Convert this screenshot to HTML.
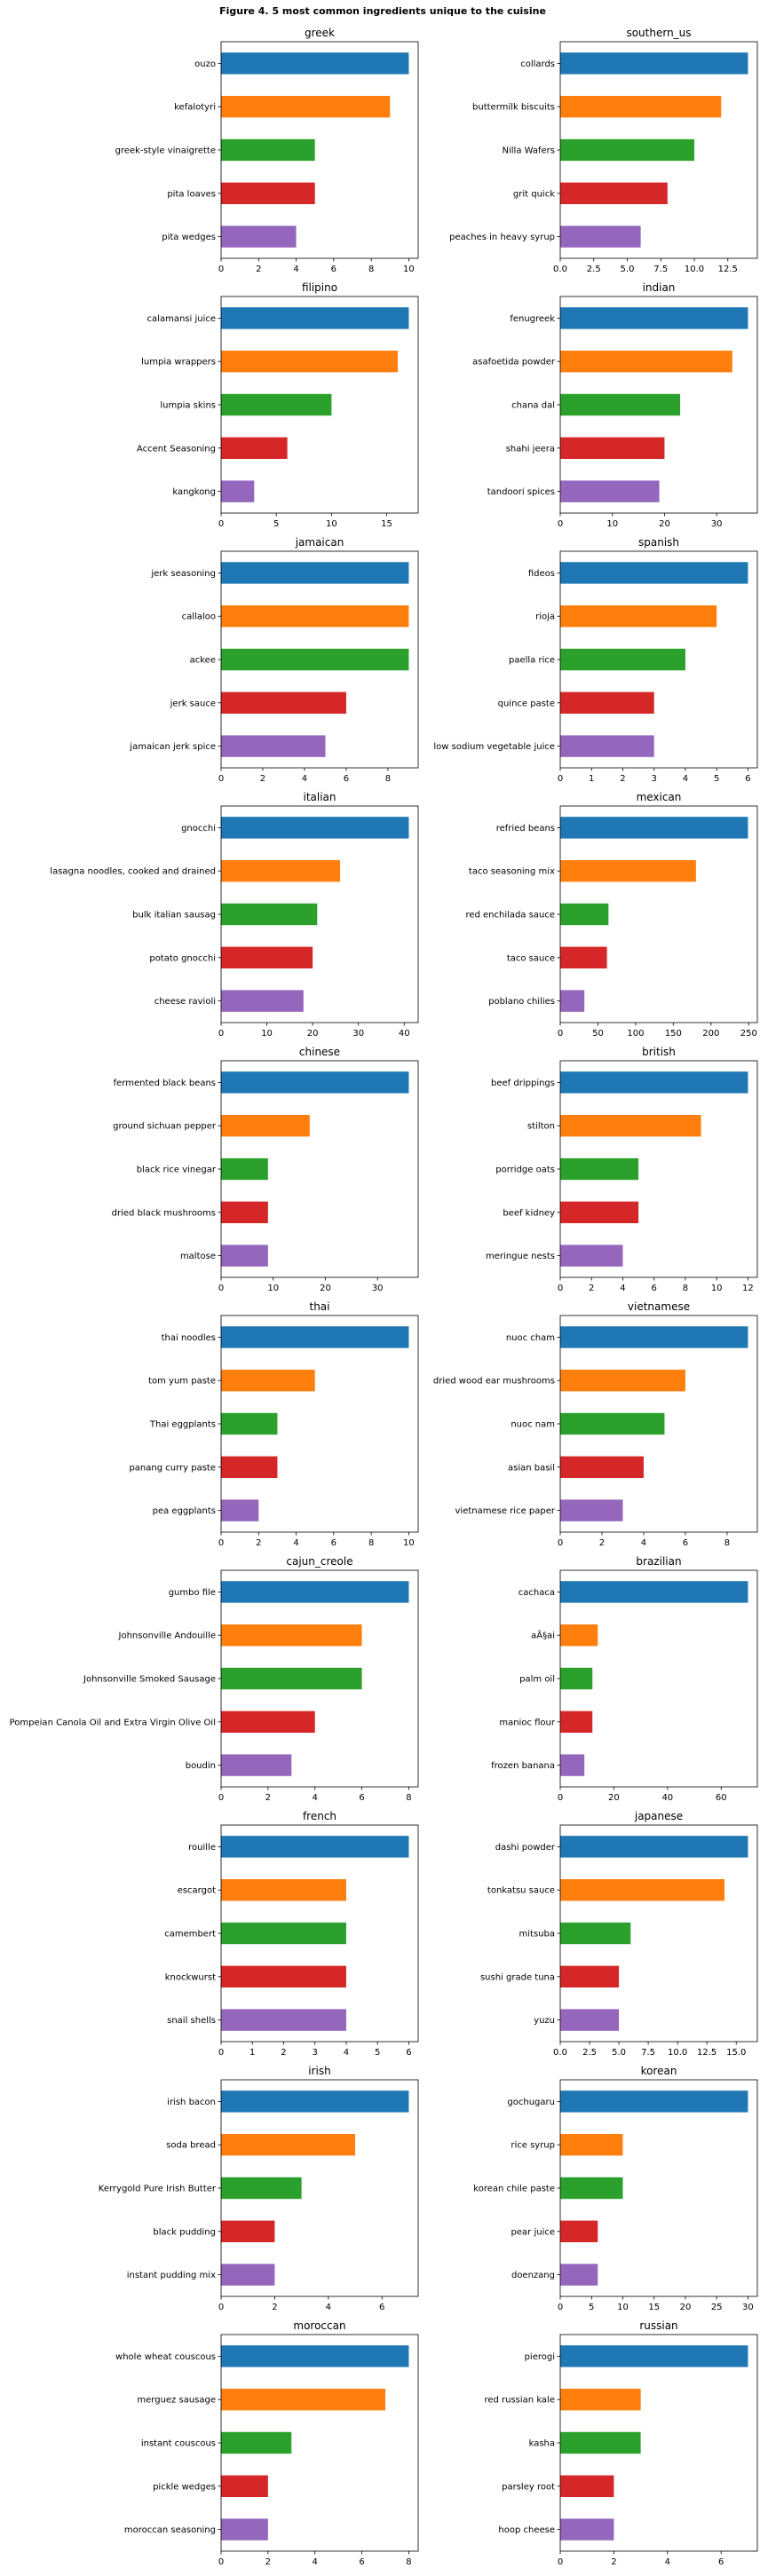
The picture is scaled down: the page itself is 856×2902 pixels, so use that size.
<!DOCTYPE html>
<html><head><meta charset="utf-8"><style>
html,body{margin:0;padding:0;background:#fff;}
svg text{font-family:"DejaVu Sans","Liberation Sans",sans-serif;fill:#000;}
</style></head>
<body>
<svg id="fig" width="856" height="2897" viewBox="0 0 856 2897" xmlns="http://www.w3.org/2000/svg">
<rect width="856" height="2897" fill="#fff"/>
<text x="431" y="16" text-anchor="middle" font-size="11" font-weight="bold">Figure 4. 5 most common ingredients unique to the cuisine</text>
</svg>
<script>
const cuisines = ["greek","southern_us","filipino","indian","jamaican","spanish","italian","mexican","chinese","british","thai","vietnamese","cajun_creole","brazilian","french","japanese","irish","korean","moroccan","russian"];
const ingredients = [
["ouzo","kefalotyri","greek-style vinaigrette","pita loaves","pita wedges"],
["collards","buttermilk biscuits","Nilla Wafers","grit quick","peaches in heavy syrup"],
["calamansi juice","lumpia wrappers","lumpia skins","Accent Seasoning","kangkong"],
["fenugreek","asafoetida powder","chana dal","shahi jeera","tandoori spices"],
["jerk seasoning","callaloo","ackee","jerk sauce","jamaican jerk spice"],
["fideos","rioja","paella rice","quince paste","low sodium vegetable juice"],
["gnocchi","lasagna noodles, cooked and drained","bulk italian sausag","potato gnocchi","cheese ravioli"],
["refried beans","taco seasoning mix","red enchilada sauce","taco sauce","poblano chilies"],
["fermented black beans","ground sichuan pepper","black rice vinegar","dried black mushrooms","maltose"],
["beef drippings","stilton","porridge oats","beef kidney","meringue nests"],
["thai noodles","tom yum paste","Thai eggplants","panang curry paste","pea eggplants"],
["nuoc cham","dried wood ear mushrooms","nuoc nam","asian basil","vietnamese rice paper"],
["gumbo file","Johnsonville Andouille","Johnsonville Smoked Sausage","Pompeian Canola Oil and Extra Virgin Olive Oil","boudin"],
["cachaca","aÃ§ai","palm oil","manioc flour","frozen banana"],
["rouille","escargot","camembert","knockwurst","snail shells"],
["dashi powder","tonkatsu sauce","mitsuba","sushi grade tuna","yuzu"],
["irish bacon","soda bread","Kerrygold Pure Irish Butter","black pudding","instant pudding mix"],
["gochugaru","rice syrup","korean chile paste","pear juice","doenzang"],
["whole wheat couscous","merguez sausage","instant couscous","pickle wedges","moroccan seasoning"],
["pierogi","red russian kale","kasha","parsley root","hoop cheese"]
];
const counts = [
[10,9,5,5,4],[14,12,10,8,6],[17,16,10,6,3],[36,33,23,20,19],
[9,9,9,6,5],[6,5,4,3,3],[41,26,21,20,18],[249,180,64,62,32],
[36,17,9,9,9],[12,9,5,5,4],[10,5,3,3,2],[9,6,5,4,3],
[8,6,6,4,3],[70,14,12,12,9],[6,4,4,4,4],[16,14,6,5,5],
[7,5,3,2,2],[30,10,10,6,6],[8,7,3,2,2],[7,3,3,2,2]
];
const tickLabels = [
["0","2","4","6","8","10"],["0.0","2.5","5.0","7.5","10.0","12.5"],["0","5","10","15"],["0","10","20","30"],
["0","2","4","6","8"],["0","1","2","3","4","5","6"],["0","10","20","30","40"],["0","50","100","150","200","250"],
["0","10","20","30"],["0","2","4","6","8","10","12"],["0","2","4","6","8","10"],["0","2","4","6","8"],
["0","2","4","6","8"],["0","20","40","60"],["0","1","2","3","4","5","6"],["0.0","2.5","5.0","7.5","10.0","12.5","15.0"],
["0","2","4","6"],["0","5","10","15","20","25","30"],["0","2","4","6","8"],["0","2","4","6"]
];
const colors = ["#1f77b4","#ff7f0e","#2ca02c","#d62728","#9467bd"];
const NS = "http://www.w3.org/2000/svg";
const svg = document.getElementById("fig");
function mk(tag, attrs, parent){
  const e = document.createElementNS(NS, tag);
  for (const k in attrs) e.setAttribute(k, attrs[k]);
  parent.appendChild(e);
  return e;
}
const AX_L = [249, 631], AX_W = 222, AX_TOP0 = 47, ROW = 287, AX_H = 244;
cuisines.forEach((c, i) => {
  const col = i % 2, row = Math.floor(i / 2);
  const x0 = AX_L[col], y0 = AX_TOP0 + row * ROW;
  const vals = counts[i];
  const xmax = Math.max(...vals) * 1.05;
  const xs = v => x0 + v / xmax * AX_W;
  const ys = k => y0 + (k + 0.5) * AX_H / 5;
  const g = mk("g", {}, svg);
  
  
  const t = mk("text", {x: x0 + AX_W / 2, y: y0 - 6, "text-anchor": "middle", "font-size": "12"}, g);
  t.textContent = c;
  
  
  vals.forEach((v, k) => {
    const b = mk("rect", {x: x0, y: ys(k) - AX_H / 20, width: xs(v) - x0, height: AX_H / 10, fill: colors[k]}, g);
    
    
    mk("line", {x1: x0 - 3.5, x2: x0, y1: ys(k), y2: ys(k), stroke: "#000", "stroke-width": 0.8}, g);
    const lt = mk("text", {x: x0 - 6, y: ys(k) + 3.5, "text-anchor": "end", "font-size": "10"}, g);
    lt.textContent = ingredients[i][k];
    
    
  });
  tickLabels[i].forEach(s => {
    const tx = xs(parseFloat(s));
    mk("line", {x1: tx, x2: tx, y1: y0 + AX_H, y2: y0 + AX_H + 3.5, stroke: "#000", "stroke-width": 0.8}, g);
    const tt = mk("text", {x: tx, y: y0 + AX_H + 15, "text-anchor": "middle", "font-size": "10"}, g);
    tt.textContent = s;
    
    
  });
  const fr = mk("rect", {x: x0, y: y0, width: AX_W, height: AX_H, fill: "none", stroke: "#000", "stroke-width": 0.8}, g);
  
  
});
</script>
</body></html>
